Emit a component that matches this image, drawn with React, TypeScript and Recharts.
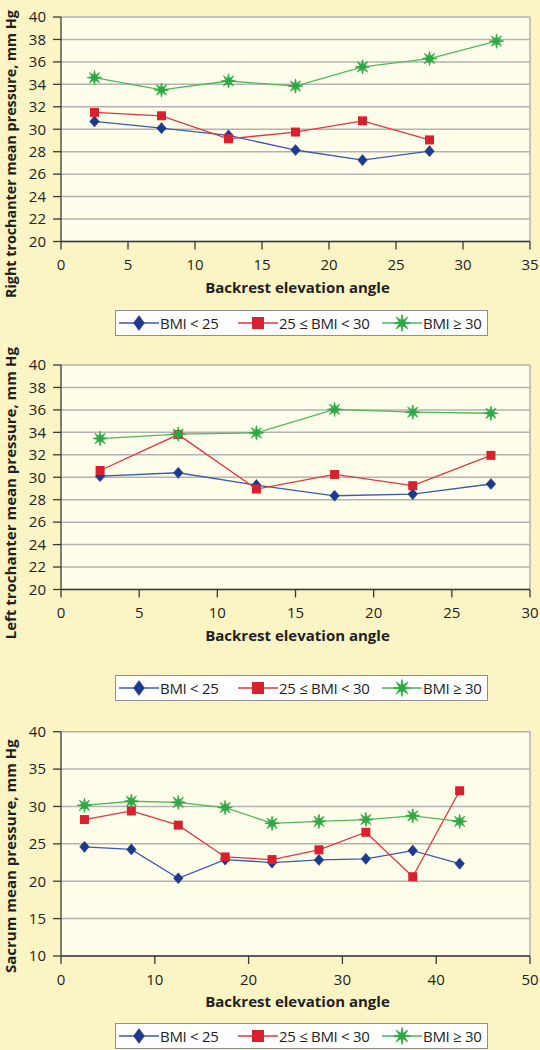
import React from 'react';
import { LineChart, Line, XAxis, YAxis, CartesianGrid, Legend, ReferenceLine, Label } from 'recharts';

// ---------- DATA ----------
const seriesNames = ['BMI < 25', '25 ≤ BMI < 30', 'BMI ≥ 30'];
const xAxisTitle = 'Backrest elevation angle';

// Chart 1: right trochanter
const rtTitle = 'Right trochanter mean pressure, mm Hg';
const rtAngles = [2.5, 7.5, 12.5, 17.5, 22.5, 27.5, 32.5];
const rtBmiUnder25 = [30.7, 30.1, 29.45, 28.15, 27.25, 28.05];
const rtBmi25to30 = [31.5, 31.2, 29.15, 29.75, 30.75, 29.05];
const rtBmi30plus = [34.6, 33.5, 34.3, 33.85, 35.55, 36.3, 37.85];
const rtXTicks = [0, 5, 10, 15, 20, 25, 30, 35];
const rtYTicks = [20, 22, 24, 26, 28, 30, 32, 34, 36, 38, 40];

// Chart 2: left trochanter
const ltTitle = 'Left trochanter mean pressure, mm Hg';
const ltAngles = [2.5, 7.5, 12.5, 17.5, 22.5, 27.5];
const ltBmiUnder25 = [30.1, 30.4, 29.3, 28.35, 28.5, 29.4];
const ltBmi25to30 = [30.6, 33.8, 28.95, 30.25, 29.25, 31.95];
const ltBmi30plus = [33.45, 33.85, 33.95, 36.05, 35.8, 35.7];
const ltXTicks = [0, 5, 10, 15, 20, 25, 30];
const ltYTicks = [20, 22, 24, 26, 28, 30, 32, 34, 36, 38, 40];

// Chart 3: sacrum
const scTitle = 'Sacrum mean pressure, mm Hg';
const scAngles = [2.5, 7.5, 12.5, 17.5, 22.5, 27.5, 32.5, 37.5, 42.5];
const scBmiUnder25 = [24.6, 24.25, 20.4, 22.9, 22.5, 22.85, 23.0, 24.1, 22.35];
const scBmi25to30 = [28.25, 29.4, 27.5, 23.25, 22.9, 24.2, 26.55, 20.6, 32.1];
const scBmi30plus = [30.15, 30.7, 30.55, 29.85, 27.75, 28.0, 28.25, 28.75, 28.0];
const scXTicks = [0, 10, 20, 30, 40, 50];
const scYTicks = [10, 15, 20, 25, 30, 35, 40];

// ---------- STYLE ----------
const FONT = '"Open Sans", "Noto Sans", "DejaVu Sans", sans-serif';
const OUTER_BG = '#fbf4c4';
const PLOT_BG = '#fffeea';
const GRID = '#b2b2b2';
const AXIS = '#3a3a3a';
const TEXT = '#231f20';
const LINE_COLORS = ['#3b5ab0', '#e3343f', '#4cba5a'];
const MARK_COLORS = ['#1c3a8e', '#d9202e', '#2ea844'];
const KEYS = ['bmiUnder25', 'bmi25to30', 'bmi30plus'];

const PLOT_LEFT = 61;
const PLOT_RIGHT = 530;
const Y_LABEL_X = 16;

function buildRows(angles: number[], a: number[], b: number[], c: number[]) {
  return angles.map((angle, i) => ({
    angle,
    bmiUnder25: a[i] ?? null,
    bmi25to30: b[i] ?? null,
    bmi30plus: c[i] ?? null,
  }));
}

// ---------- MARKERS ----------
function diamondPath(cx: number, cy: number, hw: number, hh: number) {
  return `M${cx},${cy - hh}L${cx + hw},${cy}L${cx},${cy + hh}L${cx - hw},${cy}Z`;
}
function starPath(cx: number, cy: number, R: number, r: number) {
  const pts: string[] = [];
  for (let i = 0; i < 16; i++) {
    const ang = -Math.PI / 2 + (i * Math.PI) / 8;
    const rad = i % 2 === 0 ? R : r;
    pts.push(`${(cx + rad * Math.cos(ang)).toFixed(2)},${(cy + rad * Math.sin(ang)).toFixed(2)}`);
  }
  return `M${pts.join('L')}Z`;
}
function Marker({ kind, cx, cy, big }: { kind: number; cx: number; cy: number; big?: boolean }) {
  const color = MARK_COLORS[kind];
  if (kind === 0) {
    return <path d={diamondPath(cx, cy, big ? 5.5 : 4.8, big ? 7.5 : 5.6)} fill={color} stroke={color} strokeWidth={0.5} />;
  }
  if (kind === 1) {
    const s = big ? 12 : 9;
    return <rect x={cx - s / 2} y={cy - s / 2} width={s} height={s} fill={color} />;
  }
  return <path d={starPath(cx, cy, big ? 8.5 : 7.2, big ? 2.9 : 2.6)} fill={color} stroke={color} strokeWidth={0.8} strokeLinejoin="round" />;
}
const makeDot = (kind: number) => (p: any) => {
  const k = `d-${kind}-${p.index}`;
  if (p.cx == null || p.cy == null || p.value == null) return <g key={k} />;
  return (
    <g key={k}>
      <Marker kind={kind} cx={p.cx} cy={p.cy} />
    </g>
  );
};

// ---------- LEGEND ----------
const legendOffsets = [3, 122, 266];
function LegendBox() {
  return (
    <div
      style={{
        position: 'relative',
        width: 373,
        height: 26,
        boxSizing: 'border-box',
        border: '1px solid #8f8f8f',
        background: '#ffffff',
        fontFamily: FONT,
        fontSize: 15,
        color: TEXT,
      }}
    >
      {seriesNames.map((name, i) => (
        <div
          key={name}
          style={{ position: 'absolute', left: legendOffsets[i], top: 0, height: 24, display: 'flex', alignItems: 'center' }}
        >
          <svg width={40} height={24} style={{ display: 'block' }}>
            <line x1={0} y1={12} x2={40} y2={12} stroke={LINE_COLORS[i]} strokeWidth={1.3} />
            <Marker kind={i} cx={20} cy={12} big />
          </svg>
          <span style={{ marginLeft: 1, whiteSpace: 'nowrap', lineHeight: '24px', letterSpacing: -0.3 }}>{name}</span>
        </div>
      ))}
    </div>
  );
}

// ---------- CHART ----------
type PanelProps = {
  top: number;
  height: number;
  marginTop: number;
  xAxisHeight: number;
  legendTop: number;
  yLabelStart: number;
  yLabelSize: number;
  plotBottom: number;
  title: string;
  rows: any[];
  xTicks: number[];
  yTicks: number[];
};

function Panel(p: PanelProps) {
  const xMax = p.xTicks[p.xTicks.length - 1];
  const tickStyle = { fontSize: 15, fill: TEXT, fontFamily: FONT };
  return (
    <div style={{ position: 'absolute', left: 0, top: p.top, width: 540, height: p.height }}>
      <LineChart
        width={540}
        height={p.height}
        data={p.rows}
        margin={{ top: p.marginTop, right: 540 - PLOT_RIGHT, left: 0, bottom: 0 }}
      >
        <CartesianGrid vertical={false} stroke={GRID} strokeWidth={1.5} fill={PLOT_BG} fillOpacity={1} />
        <ReferenceLine x={xMax} stroke={GRID} strokeWidth={1.5} />
        <XAxis
          dataKey="angle"
          type="number"
          domain={[0, xMax]}
          ticks={p.xTicks}
          interval={0}
          tick={tickStyle}
          tickSize={8}
          tickMargin={10}
          height={p.xAxisHeight}
          axisLine={{ stroke: AXIS, strokeWidth: 1.3 }}
          tickLine={{ stroke: AXIS, strokeWidth: 1.3 }}
        >
          <Label
            value={xAxisTitle}
            content={() => (
              <text
                x={(PLOT_LEFT + PLOT_RIGHT) / 2 + 2}
                y={p.plotBottom + 51}
                textAnchor="middle"
                fontFamily={FONT}
                fontWeight="bold"
                fontSize={15}
                fill={TEXT}
              >
                {xAxisTitle}
              </text>
            )}
          />
        </XAxis>
        <YAxis
          type="number"
          domain={[p.yTicks[0], p.yTicks[p.yTicks.length - 1]]}
          ticks={p.yTicks}
          interval={0}
          width={PLOT_LEFT}
          tick={tickStyle}
          tickSize={8}
          tickMargin={7}
          axisLine={{ stroke: AXIS, strokeWidth: 1.3 }}
          tickLine={{ stroke: AXIS, strokeWidth: 1.3 }}
        >
          <Label
            value={p.title}
            content={() => (
              <text
                x={Y_LABEL_X}
                y={p.yLabelStart}
                transform={`rotate(-90 ${Y_LABEL_X} ${p.yLabelStart})`}
                textAnchor="start"
                fontFamily={FONT}
                fontWeight="bold"
                fontSize={p.yLabelSize}
                fill={TEXT}
              >
                {p.title}
              </text>
            )}
          />
        </YAxis>
        <Legend
          content={() => <LegendBox />}
          wrapperStyle={{ top: p.legendTop, left: 115, width: 373, height: 26 }}
        />
        {KEYS.map((k, i) => (
          <Line
            key={k}
            dataKey={k}
            name={seriesNames[i]}
            stroke={LINE_COLORS[i]}
            strokeWidth={1.3}
            dot={makeDot(i)}
            activeDot={false}
            isAnimationActive={false}
            connectNulls={false}
          />
        ))}
      </LineChart>
    </div>
  );
}

export default function App() {
  const rtRows = buildRows(rtAngles, rtBmiUnder25, rtBmi25to30, rtBmi30plus);
  const ltRows = buildRows(ltAngles, ltBmiUnder25, ltBmi25to30, ltBmi30plus);
  const scRows = buildRows(scAngles, scBmiUnder25, scBmi25to30, scBmi30plus);
  return (
    <div
      style={{
        position: 'absolute',
        left: 0,
        top: 0,
        width: 540,
        height: 1050,
        background: OUTER_BG,
        overflow: 'hidden',
        fontFamily: FONT,
      }}
    >
      <Panel
        top={0}
        height={340}
        marginTop={17}
        xAxisHeight={72.5}
        legendTop={309.5}
        yLabelStart={298}
        yLabelSize={14.3}
        plotBottom={241.5}
        title={rtTitle}
        rows={rtRows}
        xTicks={rtXTicks}
        yTicks={rtYTicks}
      />
      <Panel
        top={340}
        height={362}
        marginTop={25}
        xAxisHeight={86.5}
        legendTop={335}
        yLabelStart={299.3}
        yLabelSize={15}
        plotBottom={249.5}
        title={ltTitle}
        rows={ltRows}
        xTicks={ltXTicks}
        yTicks={ltYTicks}
      />
      <Panel
        top={702}
        height={348}
        marginTop={29.7}
        xAxisHeight={68}
        legendTop={321.3}
        yLabelStart={271}
        yLabelSize={15}
        plotBottom={254}
        title={scTitle}
        rows={scRows}
        xTicks={scXTicks}
        yTicks={scYTicks}
      />
    </div>
  );
}
